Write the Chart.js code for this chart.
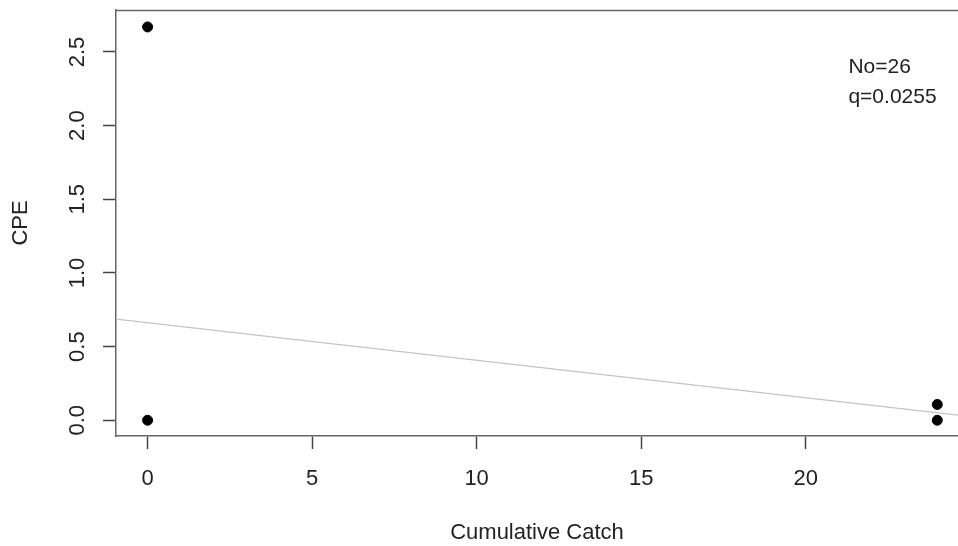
<!DOCTYPE html>
<html>
<head>
<meta charset="utf-8">
<script src="https://cdn.jsdelivr.net/npm/chart.js@4"></script>
<style>
  html, body { margin: 0; padding: 0; background: #fff; }
  #wrap { width: 958px; height: 546px; }
</style>
</head>
<body>
<div id="wrap"><canvas id="c" width="958" height="546"></canvas></div>
<script>
(function(){
  // data
  const catchX = [0, 0, 24, 24];
  const cpeY = [2.67, 0, 0.107, 0];
  // fitted line end points (at the plot edges)
  const fitX = [-0.96, 24.63];
  const fitY = [0.687, 0.035];
  const xTicks = [0, 5, 10, 15, 20];
  const yTicks = [0, 0.5, 1, 1.5, 2, 2.5];
  const notes = ['No=26', 'q=0.0255'];

  const font = 'Liberation Sans, Arial, sans-serif';
  const ink = '#222';

  function noPad(s){ s.paddingTop = 0; s.paddingBottom = 0; s.paddingLeft = 0; s.paddingRight = 0; }

  // top border + text notes
  const extras = {
    id: 'extras',
    afterDraw(chart){
      const ctx = chart.ctx, a = chart.chartArea;
      ctx.save();
      ctx.strokeStyle = '#666'; ctx.lineWidth = 1.5;
      ctx.beginPath(); ctx.moveTo(a.left, a.top + 0.5); ctx.lineTo(a.right, a.top + 0.5); ctx.stroke();
      ctx.fillStyle = ink;
      ctx.font = '21px ' + font;
      ctx.textAlign = 'left'; ctx.textBaseline = 'alphabetic';
      const x = chart.scales.x.getPixelForValue(21.3);
      notes.forEach((t, i)=> ctx.fillText(t, x, 73 + i * 30));
      ctx.restore();
    }
  };

  new Chart(document.getElementById('c'), {
    type: 'scatter',
    data: {
      datasets: [
        { label: 'fit', data: fitX.map((x,i)=>({x, y: fitY[i]})), showLine: true, borderColor: '#c4c4c4', borderWidth: 1.2, pointRadius: 0, order: 2 },
        { label: 'CPE', data: catchX.map((x,i)=>({x, y: cpeY[i]})), backgroundColor: '#000', borderColor: '#000', pointRadius: 5, order: 1 }
      ]
    },
    options: {
      responsive: false,
      animation: false,
      layout: { autoPadding: false, padding: { top: 10, left: 0, right: 0, bottom: 0 } },
      plugins: { legend: { display: false }, tooltip: { enabled: false } },
      scales: {
        x: {
          type: 'linear', min: -0.96, max: 24.63,
          afterFit: s => { s.height = 110; noPad(s); },
          afterBuildTicks: s => { s.ticks = xTicks.map(v=>({value: v})); },
          grid: { drawOnChartArea: false, drawTicks: true, tickLength: 13, tickColor: '#444', tickWidth: 1.5 },
          border: { color: '#666', width: 1.5 },
          ticks: { color: ink, font: { family: font, size: 22 }, padding: 17, maxRotation: 0, autoSkip: false },
          title: { display: true, text: 'Cumulative Catch', color: ink, font: { family: font, size: 22 }, padding: { top: 0, bottom: 0 } }
        },
        y: {
          type: 'linear', min: -0.107, max: 2.785,
          afterFit: s => { s.width = 116; noPad(s); },
          afterBuildTicks: s => { s.ticks = yTicks.map(v=>({value: v})); },
          grid: { drawOnChartArea: false, drawTicks: true, tickLength: 13, tickColor: '#444', tickWidth: 1.5 },
          border: { color: '#666', width: 1.5 },
          ticks: { color: ink, font: { family: font, size: 22 }, padding: 10, minRotation: 90, maxRotation: 90, crossAlign: 'center', autoSkip: false,
                   callback: v => v.toFixed(1) },
          title: { display: true, text: 'CPE', color: ink, font: { family: font, size: 22 }, padding: { top: 8, bottom: 0 } }
        }
      }
    },
    plugins: [extras]
  });
})();
</script>
</body>
</html>
